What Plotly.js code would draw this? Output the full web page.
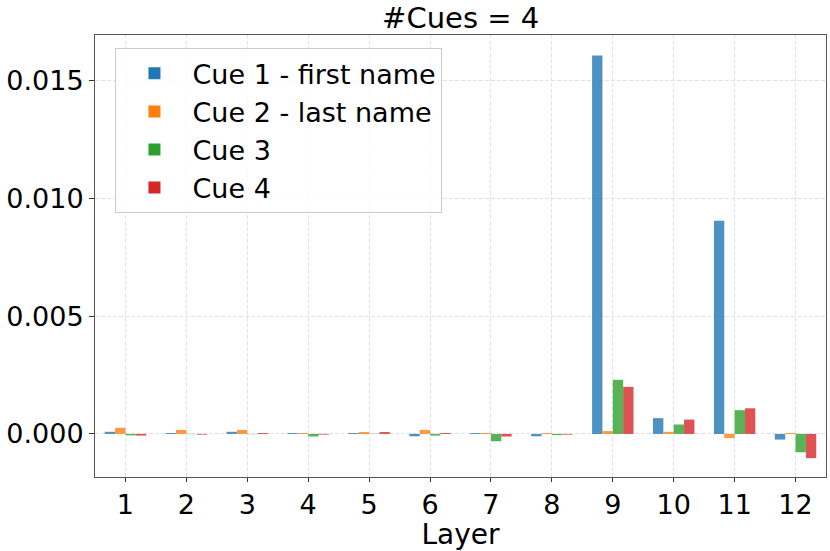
<!DOCTYPE html>
<html>
<head>
<meta charset="utf-8">
<script src="https://cdn.plot.ly/plotly-3.0.1.min.js"></script>
<style>html,body{margin:0;padding:0;background:#fff;}#chart{width:830px;height:551px;}</style>
</head>
<body>
<div id="chart"></div>
<script>
const layers = [1,2,3,4,5,6,7,8,9,10,11,12];
const seriesNames = ["Cue 1 - first name","Cue 2 - last name","Cue 3","Cue 4"];
const cue1 = [0.00009,0.00004,0.00009,0.00004,0.00004,-0.00010,0.00004,-0.00010,0.01608,0.00067,0.00906,-0.00024];
const cue2 = [0.00026,0.00017,0.00017,0.00004,0.00008,0.00017,0.00004,0.00004,0.00012,0.00009,-0.00018,0.00004];
const cue3 = [-0.00006,-0.00001,-0.00001,-0.00011,0.00001,-0.00007,-0.00031,-0.00005,0.00230,0.00040,0.00101,-0.00078];
const cue4 = [-0.00007,-0.00003,0.00004,-0.00003,0.00008,0.00004,-0.00011,-0.00003,0.00200,0.00061,0.00109,-0.00103];
const colors = ["#1f77b4","#ff7f0e","#2ca02c","#d62728"];
const values = [cue1,cue2,cue3,cue4];

const traces = values.map((v,i)=>({
  type:'bar', x:layers, y:v, name:seriesNames[i],
  marker:{color:colors[i], opacity:0.8, line:{width:0}}
}));

const font = {family:'"DejaVu Sans", sans-serif', color:'#000'};
const layout = {
  width:830, height:551,
  margin:{l:95, r:4, t:35, b:74},
  paper_bgcolor:'#fff', plot_bgcolor:'#fff',
  barmode:'group', bargap:0.32, bargroupgap:0,
  title:{text:'#Cues = 4', font:Object.assign({size:29},font), x:0.555, xanchor:'center', y:0.968, yanchor:'middle'},
  xaxis:{
    range:[0.5,12.5], tickvals:layers, ticktext:layers.map(String),
    tickfont:Object.assign({size:27},font),
    title:{text:'Layer', font:Object.assign({size:28},font), standoff:0},
    showgrid:true, gridcolor:'#e2e2e2', griddash:'4px,2px', gridwidth:1,
    showline:true, linecolor:'#555', linewidth:1, mirror:true,
    ticks:'outside', ticklen:4, tickcolor:'#333', zeroline:false
  },
  yaxis:{
    range:[-0.00183,0.01695], tickvals:[0,0.005,0.010,0.015], tickformat:'.3f',
    tickfont:Object.assign({size:27},font),
    showgrid:true, gridcolor:'#e2e2e2', griddash:'4px,2px', gridwidth:1,
    showline:true, linecolor:'#555', linewidth:1, mirror:true,
    ticks:'outside', ticklen:5, tickcolor:'#333',
    zeroline:false
  },
  legend:{
    x:0.028, y:0.97, xanchor:'left', yanchor:'top',
    font:Object.assign({size:27},font),
    bgcolor:'rgba(255,255,255,0.8)', bordercolor:'#ccc', borderwidth:1,
    itemwidth:66
  },
  showlegend:true
};
Plotly.newPlot('chart', traces, layout, {displayModeBar:false, staticPlot:true});
</script>
</body>
</html>
